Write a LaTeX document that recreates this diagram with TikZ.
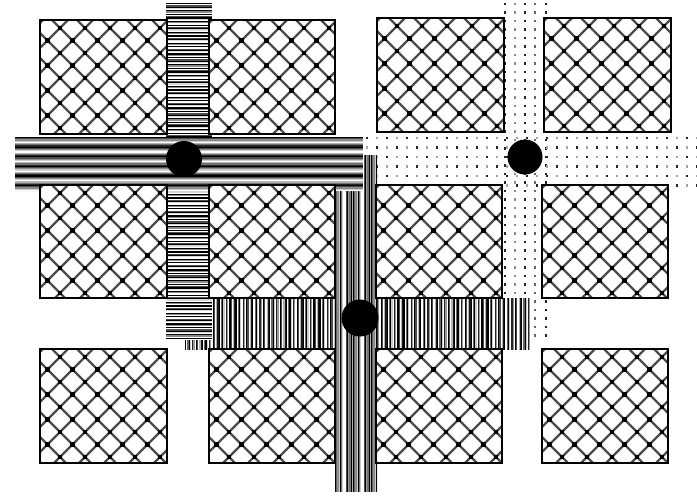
\documentclass[tikz,border=0pt]{standalone}
\tikzset{
  latt/.style={black!70, line width=2.2pt},
  lotborder/.style={draw=black, line width=1.5pt},
  hub/.style={circle, fill=black, inner sep=0pt, minimum size=#1},
}
% parking lot block with lattice fill: x0 y0 x1 y1 (pixel coords)
\newcommand\lotrect[4]{%
 \begin{scope}
  \clip (#1,#2) rectangle (#3,#4);
  \fill[white] (#1,#2) rectangle (#3,#4);
  \foreach \n in {-8,...,12}{
    \draw[latt] ({#1+28+25*\n+150},{#2-150}) -- ++(-420,420);
    \draw[latt] ({#1+12+25*\n-150},{#2-150}) -- ++(420,420);
  }
  \foreach \j in {-1,...,10}{
    \foreach \k in {-1,...,5}{
      \pgfmathsetmacro\dx{#1+7.5+12.5*mod(\j+1,2)+25*\k}
      \pgfmathsetmacro\dy{#2+8+12.5*\j}
      \fill[black] (\dx-2.2,\dy-2.2) rectangle ++(4.4,4.4);
    }
  }
 \end{scope}
 \draw[lotborder] (#1,#2) rectangle (#3,#4);
}
% horizontal stripes: x0 y0 x1 y1 listlength list
\newcommand\hstripes[6]{%
  \fill[white] (#1,#2) rectangle (#3,#4);
  \pgfmathtruncatemacro\nst{(#4-#2)/1.2}
  \foreach \k in {0,...,\nst}{
    \pgfmathtruncatemacro\g{{#6}[mod(\k,#5)]}
    \fill[black!\g] (#1,{#2+1.2*\k}) rectangle (#3,{min(#2+1.2*\k+1.25,#4)});
  }}
\newcommand\vstripes[6]{%
  \fill[white] (#1,#2) rectangle (#3,#4);
  \pgfmathtruncatemacro\nst{(#3-#1)/1.2}
  \foreach \k in {0,...,\nst}{
    \pgfmathtruncatemacro\g{{#6}[mod(\k,#5)]}
    \fill[black!\g] ({#1+1.2*\k},#2) rectangle ({min(#1+1.2*\k+1.25,#3)},#4);
  }}
\begin{document}
\begin{tikzpicture}[x=1pt,y=-1pt]
\useasboundingbox (0,0) rectangle (697,496);
\fill[white] (0,0) rectangle (697,496);

% dotted road (vertical part)
\foreach \c/\col in {505/black!85,515/black!45,525/black!85,535/black!60,546/black!85}{
  \foreach \r in {0,...,39}{
    \fill[\col] ({\c-1.3},{4+8.5*\r-1.3}) rectangle ++(2.6,2.6);
  }
}
% dotted road (horizontal part)
\foreach \i in {0,...,33}{
  \foreach \r in {0,...,5}{
    \pgfmathtruncatemacro\dpar{mod(\i+\r,2)}
    \ifnum\dpar=0 \def\dcol{black!85}\else\def\dcol{black!35}\fi
    \fill[\dcol] ({367+10*\i-1.3},{138+9.5*\r-1.3}) rectangle ++(2.6,2.6);
  }
}

% road H2 (vertical stripes)
\vstripes{185}{298}{530}{350}{14}{100,0,60,100,20,0,85,40,0,100,70,0,30,90}
% road V1 (horizontal stripes)
\hstripes{166}{3}{212}{340}{9}{100,0,70,100,15,0,100,45,0}
% road V2 (vertical stripes)
\vstripes{335}{155}{377}{492}{15}{100,60,45,20,100,55,20,0,0,70,100,40,55,100,30}
% road H1 (horizontal stripes)
\hstripes{15}{137}{363}{191}{8}{100,70,45,20,0,30,55,85}

% parking blocks
\lotrect{40}{20}{167}{134}
\lotrect{209}{20}{335}{134}
\lotrect{377}{18}{504}{132}
\lotrect{544}{18}{671}{132}
\lotrect{40}{185}{167}{298}
\lotrect{209}{185}{335}{298}
\lotrect{376}{185}{502}{298}
\lotrect{542}{185}{668}{298}
\lotrect{40}{349}{167}{463}
\lotrect{209}{349}{335}{463}
\lotrect{376}{349}{502}{463}
\lotrect{542}{349}{668}{463}

% hubs
\node[hub=36pt] (hubA) at (184,159) {};
\node[hub=35pt] (hubB) at (525,157) {};
\node[hub=37pt] (hubC) at (360,318) {};
\end{tikzpicture}
\end{document}
